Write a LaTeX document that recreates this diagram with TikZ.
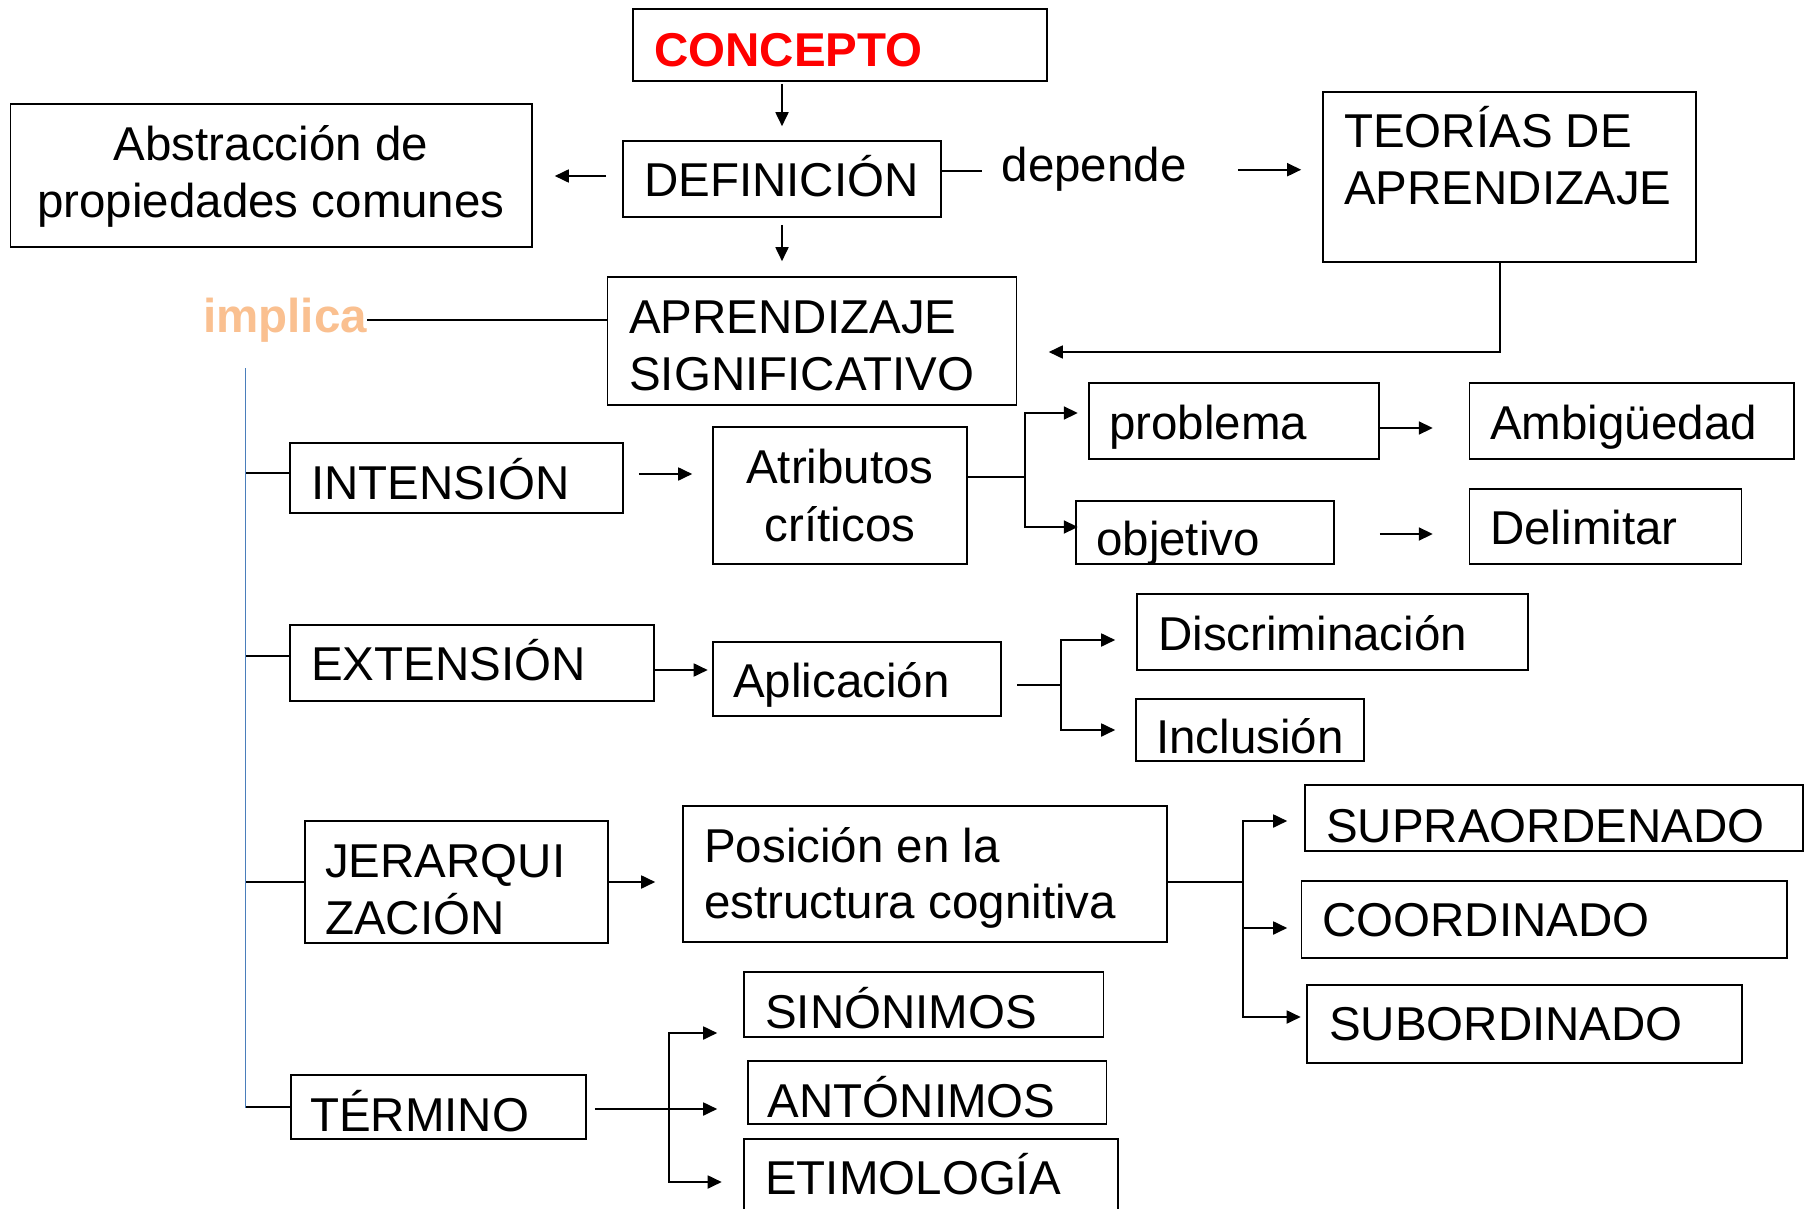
\documentclass[tikz,border=0pt]{standalone}
\usepackage{fontspec}
\setmainfont{Liberation Sans}
\usetikzlibrary{arrows.meta,fit,calc}
\definecolor{peach}{HTML}{FAC090}
\definecolor{trunkblue}{HTML}{4A7EBB}
\newcommand\mybox[5]{\node[box, fit={(#2,#3) (#4,#5)}] (#1) {};}
\begin{document}
\begin{tikzpicture}[x=1pt,y=-1pt,
  box/.style={draw, line width=1.6pt, inner sep=0pt},
  txt/.style={inner sep=0pt, anchor=base west, font=\fontsize{47.5}{57}\selectfont},
  btxt/.style={inner sep=0pt, anchor=base west, font=\fontsize{47.5}{57}\selectfont\bfseries},
  ctxt/.style={inner sep=0pt, anchor=base, font=\fontsize{47.5}{57}\selectfont},
  con/.style={line width=1.8pt},
  arr/.style={con, -{Triangle[length=14pt,width=13pt]}},
]
\useasboundingbox[fill=white] (0,0) rectangle (1810,1209);

% ---------- boxes and texts ----------
\mybox{concepto}{633}{9}{1047}{81}
\node[btxt, text=red] (concepto-t) at (654,67) {CONCEPTO};
\mybox{def}{623}{141}{941}{217}
\node[txt] (def-t) at (644,197) {DEFINICIÓN};
\mybox{abs}{10.5}{104}{532}{247}
\node[ctxt] (abs-t1) at (271,161) {Abstracción de};
\node[ctxt] (abs-t2) at (271,218) {propiedades comunes};
\mybox{teo}{1323}{92}{1696}{262}
\node[txt] (teo-t1) at (1344,148) {TEORÍAS DE};
\node[txt] (teo-t2) at (1344,205) {APRENDIZAJE};
\mybox{apr}{607.5}{277}{1016.5}{405}
\node[txt] (apr-t1) at (629,333) {APRENDIZAJE};
\node[txt] (apr-t2) at (629,390) {SIGNIFICATIVO};
\node[btxt, text=peach] (implica) at (203,332) {implica};
\node[txt] (depende) at (1001.5,182) {depende};
\mybox{int}{290}{443}{623}{513}
\node[txt] (int-t) at (311,499) {INTENSIÓN};
\mybox{atr}{713}{427}{967}{564}
\node[ctxt] (atr-t1) at (840,483) {Atributos};
\node[ctxt] (atr-t2) at (840,541) {críticos};
\mybox{pro}{1089}{383}{1379}{459}
\node[txt] (pro-t) at (1109,439) {problema};
\mybox{amb}{1469.6}{383}{1794}{459}
\node[txt] (amb-t) at (1490,439) {Ambigüedad};
\mybox{obj}{1076}{501}{1334}{564}
\node[txt] (obj-t) at (1096,555) {objetivo};
\mybox{del}{1469.6}{489}{1741.6}{564}
\node[txt] (del-t) at (1490,544) {Delimitar};
\mybox{ext}{290}{625}{654}{701}
\node[txt] (ext-t) at (311,680) {EXTENSIÓN};
\mybox{apl}{713}{642}{1001}{716}
\node[txt] (apl-t) at (733,697) {Aplicación};
\mybox{dis}{1137}{594}{1528}{670}
\node[txt] (dis-t) at (1158,650) {Discriminación};
\mybox{inc}{1136}{699}{1364}{761}
\node[txt] (inc-t) at (1156,753) {Inclusión};
\mybox{jer}{305}{821}{608}{943}
\node[txt] (jer-t1) at (325,877) {JERARQUI};
\node[txt] (jer-t2) at (325,934) {ZACIÓN};
\mybox{pos}{683}{806}{1167}{942}
\node[txt] (pos-t1) at (704,862) {Posición en la};
\node[txt] (pos-t2) at (704,918) {estructura cognitiva};
\mybox{sup}{1305}{785}{1803}{851}
\node[txt] (sup-t) at (1326,842) {SUPRAORDENADO};
\mybox{coo}{1301.5}{881}{1787}{958}
\node[txt] (coo-t) at (1322,936) {COORDINADO};
\mybox{subo}{1307}{985}{1742}{1063}
\node[txt] (subo-t) at (1329,1040) {SUBORDINADO};
\mybox{ter}{291}{1075}{586}{1139}
\node[txt] (ter-t) at (310,1131) {TÉRMINO};
\mybox{sino}{744}{972}{1103.6}{1037}
\node[txt] (sino-t) at (765,1028) {SINÓNIMOS};
\mybox{ant}{748}{1061}{1106.6}{1124}
\node[txt] (ant-t) at (767.6,1117) {ANTÓNIMOS};
\mybox{eti}{744}{1139}{1118}{1230}
\node[txt] (eti-t) at (765,1194) {ETIMOLOGÍA};

% ---------- top connectors ----------
\draw[arr, shorten <=2pt, shorten >=14pt] (def.north |- concepto.south) -- (def.north);
\draw[arr, shorten <=7pt, shorten >=15pt] (def.south) -- (def.south |- apr.north);
\draw[arr, shorten <=16pt, shorten >=22pt] ([yshift=3pt]def.west) -- ([yshift=3pt]def.west -| abs.east);
\draw[con, shorten >=19.5pt] ([yshift=8pt]def.east) -- ([yshift=8pt]def.east -| depende.west);
\draw[arr, shorten <=51pt, shorten >=21pt] (depende.east) -- (depende.east -| teo.west);
\draw[arr] ([xshift=-9.5pt]teo.south) |- ([xshift=31.5pt,yshift=-11pt]apr.east);
\draw[con] (implica.east) -- (implica.east -| apr.west);

% ---------- trunk ----------
\coordinate (trunkTop) at (245.5,368);
\coordinate (trunkBot) at (245.5,1108);
\draw[line width=1.3pt, trunkblue] (trunkTop) -- (trunkBot);
\draw[con] ([yshift=5pt]int.west) -- ([yshift=5pt]int.west -| trunkTop);
\draw[con] ([yshift=7pt]ext.west) -- ([yshift=7pt]ext.west -| trunkTop);
\draw[con] (jer.west) -- (jer.west -| trunkTop);
\draw[con] (ter.west) -- (ter.west -| trunkTop);

% ---------- intension row ----------
\draw[arr, shorten <=15pt, shorten >=20pt] ([yshift=4pt]int.east) -- ([yshift=4pt]int.east -| atr.west);
\coordinate (fA) at (1024.7,477);
\draw[con] ([yshift=18.5pt]atr.east) -- (fA);
\draw[arr, shorten >=10.4pt] (fA) |- ([yshift=8pt]pro.west);
\draw[arr, shorten >=-2.6pt] (fA) |- ([yshift=5.5pt]obj.west);
\draw[arr, shorten >=36pt] ([yshift=-7pt]pro.east) -- ([yshift=-7pt]pro.east -| amb.west);
\draw[arr, shorten <=45pt, shorten >=36pt] ([yshift=-1.5pt]obj.east) -- ([yshift=-1.5pt]obj.east -| del.west);

% ---------- extension row ----------
\draw[arr, shorten >=4.5pt] ([yshift=-7pt]ext.east) -- ([yshift=-7pt]ext.east -| apl.west);
\coordinate (fB) at (1061,685);
\draw[con, shorten <=15.5pt] ([yshift=-6pt]apl.east) -- (fB);
\draw[arr, shorten >=21pt] (fB) |- ([yshift=-8pt]dis.west);
\draw[arr, shorten >=20pt] (fB) |- (inc.west);

% ---------- jerarquizacion row ----------
\draw[arr, shorten >=27pt] (jer.east) -- (jer.east -| pos.west);
\coordinate (fC) at (1243,882);
\draw[con] ([yshift=-8pt]pos.east) -- (fC);
\draw[arr, shorten >=17pt] (fC) |- ([yshift=-3pt]sup.west);
\draw[arr, shorten >=13.5pt] (fC) |- ([yshift=-8.5pt]coo.west);
\draw[arr, shorten >=5.5pt] (fC) |- ([yshift=7pt]subo.west);

% ---------- termino row ----------
\draw[arr, shorten <=8pt, shorten >=30pt] ([yshift=-2pt]ter.east) -- ([yshift=-2pt]ter.east -| ant.west);
\coordinate (fD) at (669,1109);
\draw[arr, shorten >=26pt] (fD) |- ([yshift=-28.5pt]sino.west);
\draw[arr, shorten >=21.5pt] (fD) |- ([yshift=2.5pt]eti.west);
\end{tikzpicture}
\end{document}
